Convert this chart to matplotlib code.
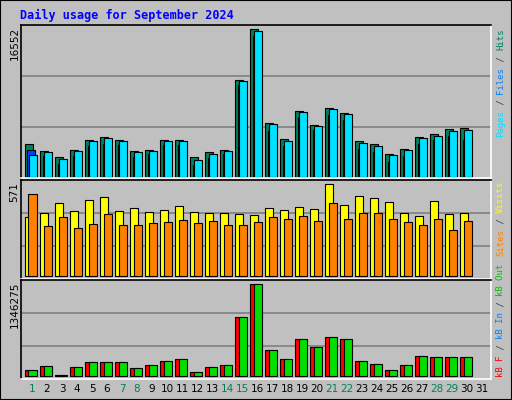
import matplotlib
matplotlib.use("Agg")
import matplotlib.pyplot as plt
from matplotlib.patches import Rectangle
import numpy as np

days = list(range(1, 32))
hits = [3661,2914,2242,2989,4147,4483,4147,2914,2989,4147,4147,2242,2802,2989,10872,16552,
        6052,4222,7397,5828,7734,7173,4035,3661,2578,3138,4483,4819,5380,5492,0]
files = [3026,2354,1457,2354,3474,3699,3587,2242,2578,3587,3587,1345,2130,2578,10311,15804,
         5156,3474,6725,5268,6949,6389,3138,2802,1681,2354,3699,4147,4595,4147,0]
pages = [2466,2802,2017,2914,4035,4371,4035,2802,2914,4035,4035,1905,2578,2914,10760,16364,
         5940,4035,7285,5716,7621,7061,3811,3474,2466,3026,4371,4595,5156,5268,0]
visits = [366,391,453,403,472,490,403,422,397,410,434,397,391,391,385,379,
          422,410,428,416,571,441,497,484,459,391,372,466,385,391,0]
sites = [509,310,366,298,323,385,317,317,329,335,348,329,341,317,317,335,
         366,354,372,341,453,354,391,391,354,335,317,354,286,341,0]
kbytes = [78328,137074,5000,122388,195820,195820,195820,107701,151761,210507,239880,48955,
          122388,151761,856713,1346275,372058,239880,533610,416118,562983,533610,210507,
          166447,78328,151761,283939,269253,269253,269253,0]
weekend = [1,7,8,14,15,21,22,28,29]

BG = "#C0C0C0"
W, H = 512, 400
fig = plt.figure(figsize=(W/100, H/100), dpi=100, facecolor=BG)

def fx(px): return px / W
def fy(py): return 1 - py / H

X0, X1 = 20.7, 490.7
def make_ax(top, bot, ylo, yhi):
    ax = fig.add_axes([fx(X0), fy(bot), fx(X1 - X0), (bot - top) / H])
    ax.set_facecolor(BG)
    ax.set_xlim(X0, X1)
    ax.set_ylim(ylo, yhi)
    ax.set_xticks([]); ax.set_yticks([])
    for s in ax.spines.values():
        s.set_linewidth(1.2)
    ax.spines["top"].set_color("black"); ax.spines["left"].set_color("black")
    ax.spines["bottom"].set_color("white"); ax.spines["right"].set_color("white")
    span = yhi - ylo
    for k in (1, 2):
        ax.axhline(ylo + span * k / 3, color="#808080", lw=1.2, zorder=0)
    return ax

def slot(d): return 25 + 15 * (d - 1)

def bars(ax, vals, off, w, color):
    for d, v in zip(days, vals):
        if v > 0:
            ax.add_patch(Rectangle((slot(d) + off, 0), w, v, facecolor=color,
                                   edgecolor="black", lw=0.8, zorder=2))

ax1 = make_ax(25.3, 178.3, -149, 17000)
bars(ax1, hits, 0, 7.5, "#00805C")
bars(ax1, files, 2.5, 7.5, "#0040FF")
bars(ax1, pages, 3.8, 8, "#00E0FF")

ax2 = make_ax(180.3, 279.3, -18.6, 596)
bars(ax2, visits, 0, 7.5, "#FFFF00")
bars(ax2, sites, 3.5, 8, "#FF8000")

ax3 = make_ax(280.3, 379.3, -53850, 1400100)
bars(ax3, kbytes, 0, 7.5, "#FF0000")
bars(ax3, kbytes, 3.5, 8, "#00E000")

fig.text(fx(20), fy(15), "Daily usage for September 2024", color="#0000FF",
         family="DejaVu Sans Mono", weight="bold", fontsize=8.5, va="center", ha="left")

for txt, top in (("16552", 27), ("571", 182), ("1346275", 282)):
    fig.text(fx(14.5), fy(top), txt, rotation=90, ha="center", va="top", fontsize=7.5)

for d in days:
    fig.text(fx(slot(d) + 7), fy(389), str(d), ha="center", va="center", fontsize=7.5,
             color="#00805C" if d in weekend else "black")

CH = 5.42
def side(segs, bottom_px):
    y = bottom_px
    for s, c in segs:
        fig.text(fx(500.5), fy(y), s, rotation=90, ha="center", va="bottom", color=c,
                 family="DejaVu Sans Mono", fontsize=6.5)
        y -= CH * len(s)

side([("Pages", "#00E0FF"), (" / ", "#404040"), ("Files", "#0080FF"), (" / ", "#404040"),
      ("Hits", "#00805C")], 137)
side([("Sites", "#FF8000"), (" / ", "#404040"), ("Visits", "#FFFF00")], 256)
side([("kB F", "#FF0000"), (" / ", "#404040"), ("kB In", "#0080FF"), (" / ", "#404040"),
      ("kB Out", "#00C000")], 377)

fig.patches.append(Rectangle((0, 0), 1, 1, transform=fig.transFigure, fill=False,
                             edgecolor="black", lw=1.5))
fig.savefig("out.png", dpi=100, facecolor=BG)
